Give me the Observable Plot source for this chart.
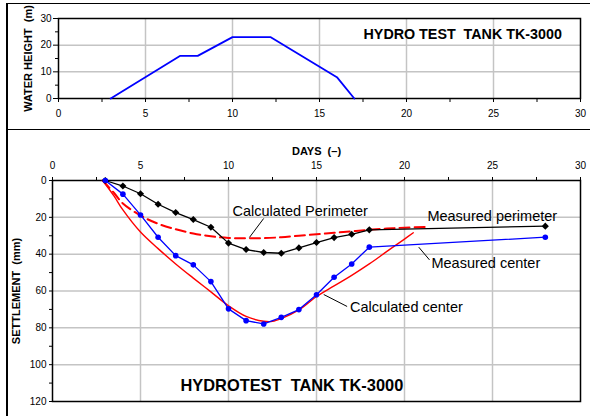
<!DOCTYPE html>
<html><head><meta charset="utf-8">
<script src="https://cdn.jsdelivr.net/npm/d3@7"></script>
<script src="https://cdn.jsdelivr.net/npm/@observablehq/plot@0.6"></script>
<style>
body{margin:0;background:#fff;font-family:"Liberation Sans",Arial,sans-serif;}
#wrap{position:relative;width:590px;height:416px;overflow:hidden;}
#top{position:absolute;left:0;top:0;}
#bot{position:absolute;left:0;top:129px;}
.ln{position:absolute;background:#000;}
svg{overflow:visible;}
</style></head><body>
<div id="wrap">
<div id="top"></div><div id="bot"></div>
<div class="ln" style="left:6px;top:2.5px;width:1.5px;height:414px"></div>
<div class="ln" style="left:6px;top:2.5px;width:584px;height:1.5px"></div>
<div class="ln" style="left:6px;top:128.5px;width:584px;height:1.5px"></div>
</div>
<script>
// ---- data ----
const dayTicks = [0, 5, 10, 15, 20, 25, 30];
const dayMinorTicks = [2.5, 7.5, 12.5, 17.5, 22.5, 27.5];
const dayGrid = [5, 10, 15, 20, 25];

const heightTicks = [0, 10, 20, 30];
const heightMinorTicks = [5, 15, 25];
const heightGrid = [10, 20];

const settleTicks = [0, 20, 40, 60, 80, 100, 120];
const settleMinorTicks = [10, 30, 50, 70, 90, 110];
const settleGrid = [20, 40, 60, 80, 100];

const waterDays = [3, 7, 8, 10, 12.2, 16, 17];
const waterHeight = [0, 16, 16, 23, 23, 8, 0];

const measDays = [3, 4, 5, 6, 7, 8, 9, 10, 11, 12, 13, 14, 15, 16, 17, 18, 28];
const measPerimeter = [0, 3, 7.2, 12.9, 17.4, 21.2, 25.4, 34, 37.5, 39.1, 39.5, 36.6, 33.7, 31, 29.2, 26.8, 24.8];
const measCenter = [0, 7.4, 18.7, 30.8, 40.8, 45.8, 54.9, 69.7, 76.1, 77.9, 74.3, 70.1, 62, 52.5, 45.3, 36.2, 30.8];

const calcCenterDays = [2.85, 3.5, 4, 5, 6, 7, 8, 9, 10, 11, 12, 12.5, 13, 14, 15, 16, 17, 18, 19, 20, 20.5];
const calcCenter = [0, 8.5, 16, 28, 37, 45.3, 53, 60.5, 68, 73.8, 76.4, 76.5, 75, 70.3, 63, 57.2, 51.5, 45.3, 38.5, 31.8, 28.4];

const calcPerimDays = [2.85, 3.5, 4, 5, 6, 7, 8, 9, 10, 11, 12, 13, 14, 15, 16, 17, 18, 19, 20, 21.2];
const calcPerimeter = [0, 6.8, 12.5, 19, 23.5, 26.5, 28.8, 30.3, 31.2, 31.4, 31.3, 30.8, 30, 29.2, 28.4, 27.6, 26.8, 26.1, 25.6, 25.2];

const topTitle = "HYDRO TEST  TANK TK-3000";
const bottomTitle = "HYDROTEST  TANK TK-3000";
const topYLabel = "WATER HEIGHT  (m)";
const bottomYLabel = "SETTLEMENT  (mm)";
const xLabel = "DAYS  (–)";

const labelTexts = ["Calculated Perimeter", "Measured perimeter", "Measured center", "Calculated center"];
const labelDays = [10.23, 21.3, 21.53, 16.9];
const labelSettle = [16.8, 19.7, 45.2, 69];

const leaderDay1 = [12.0, 20.81, 15.41];
const leaderSet1 = [20.6, 36.2, 61.9];
const leaderDay2 = [11.19, 21.42, 16.74];
const leaderSet2 = [30.9, 43.1, 68.4];

// ---- build ----
const FONT = "Liberation Sans, Arial, sans-serif";
const grid = {stroke: "#c4c4c4", strokeOpacity: 1, strokeWidth: 1.5};
const water = waterDays.map((d, i) => ({d, h: waterHeight[i]}));
const meas = measDays.map((d, i) => ({d, p: measPerimeter[i], c: measCenter[i]}));
const cc = calcCenterDays.map((d, i) => ({d, v: calcCenter[i]}));
const cp = calcPerimDays.map((d, i) => ({d, v: calcPerimeter[i]}));
const labels = labelTexts.map((t, i) => ({t, d: labelDays[i], s: labelSettle[i]}));
const leaders = leaderDay1.map((d, i) => ({d1: d, s1: leaderSet1[i], d2: leaderDay2[i], s2: leaderSet2[i]}));

const topChart = Plot.plot({
  width: 590, height: 128,
  marginLeft: 58, marginRight: 10, marginTop: 18, marginBottom: 30,
  style: {fontFamily: FONT, fontSize: "10px", background: "transparent", color: "#000"},
  x: {domain: [0, 30]},
  y: {domain: [0, 30]},
  marks: [
    Plot.gridX(dayGrid, grid),
    Plot.gridY(heightGrid, grid),
    Plot.axisX(dayTicks, {tickSize: 4, tickPadding: 7, label: null}),
    Plot.axisX(dayMinorTicks, {tickSize: 4, tickFormat: () => "", label: null}),
    Plot.axisY(heightTicks, {tickSize: 5, tickPadding: 2, label: null}),
    Plot.axisY(heightMinorTicks, {tickSize: 3, tickFormat: () => "", label: null}),
    Plot.frame({stroke: "#000", strokeWidth: 1.5}),
    Plot.line(water, {x: "d", y: "h", stroke: "#0000ff", strokeWidth: 1.8}),
    Plot.text([topTitle], {x: 17.53, y: 23.9, text: d => d, textAnchor: "start", fontWeight: "bold", fontSize: 14.3}),
    Plot.text([topYLabel], {frameAnchor: "left", dx: -30.5, rotate: -90, textAnchor: "middle", text: d => d, fontWeight: "bold", fontSize: 11})
  ]
});
document.getElementById("top").appendChild(topChart);

const botChart = Plot.plot({
  width: 590, height: 287,
  marginLeft: 52, marginRight: 10, marginTop: 51, marginBottom: 15,
  style: {fontFamily: FONT, fontSize: "10px", background: "transparent", color: "#000"},
  x: {domain: [0, 30]},
  y: {domain: [0, 120], reverse: true},
  marks: [
    Plot.gridX(dayGrid, grid),
    Plot.gridY(settleGrid, grid),
    Plot.axisX(dayTicks, {anchor: "top", tickSize: 4, tickPadding: 8, label: null}),
    Plot.axisX(dayMinorTicks, {anchor: "top", tickSize: 4, tickFormat: () => "", label: null}),
    Plot.axisY(settleTicks, {tickSize: 3, tickPadding: 3, label: null}),
    Plot.axisY(settleMinorTicks, {tickSize: 3, tickFormat: () => "", label: null}),
    Plot.frame({stroke: "#000", strokeWidth: 1.5}),
    Plot.line(cp, {x: "d", y: "v", stroke: "#ff0000", strokeWidth: 2, strokeDasharray: "10,5", curve: "catmull-rom"}),
    Plot.line(cc, {x: "d", y: "v", stroke: "#ff0000", strokeWidth: 1.4, curve: "catmull-rom"}),
    Plot.line(meas, {x: "d", y: "p", stroke: "#000", strokeWidth: 1.3}),
    Plot.dot(meas, {x: "d", y: "p", symbol: "diamond2", r: 3.2, fill: "#000"}),
    Plot.line(meas, {x: "d", y: "c", stroke: "#0000ff", strokeWidth: 1.3}),
    Plot.dot(meas, {x: "d", y: "c", r: 2.8, fill: "#0000ff"}),
    Plot.link(leaders, {x1: "d1", y1: "s1", x2: "d2", y2: "s2", stroke: "#000", strokeWidth: 1}),
    Plot.text(labels, {x: "d", y: "s", text: "t", textAnchor: "start", fontSize: 14.5}),
    Plot.text([bottomTitle], {x: 7.27, y: 111.3, text: d => d, textAnchor: "start", fontWeight: "bold", fontSize: 16.4}),
    Plot.text([xLabel], {frameAnchor: "top", dy: -33, text: d => d, fontWeight: "bold", fontSize: 11}),
    Plot.text([bottomYLabel], {frameAnchor: "left", dx: -36, rotate: -90, textAnchor: "middle", text: d => d, fontWeight: "bold", fontSize: 11})
  ]
});
document.getElementById("bot").appendChild(botChart);
</script>
</body></html>
